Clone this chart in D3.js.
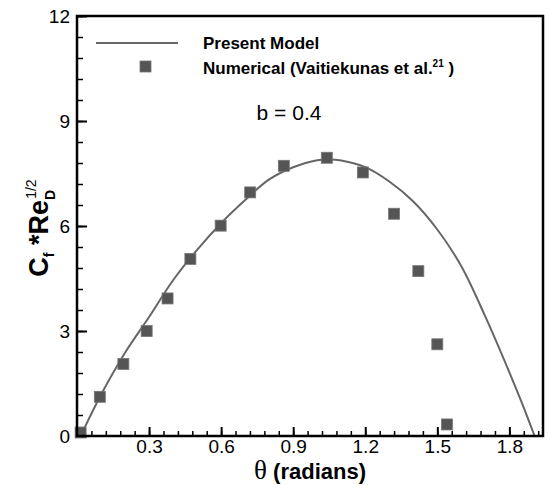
<!DOCTYPE html>
<html>
<head>
<meta charset="utf-8">
<script src="https://cdn.jsdelivr.net/npm/d3@7"></script>
<style>
  body { margin: 0; background: #fff; }
  svg { font-family: "Liberation Sans", Arial, sans-serif; }
</style>
</head>
<body>
<svg width="550" height="485"></svg>
<script>
// Present Model curve
const modelTheta = [0.015, 0.1, 0.2, 0.3, 0.4, 0.5, 0.6, 0.7, 0.8, 0.9, 1.0, 1.05, 1.1, 1.2, 1.3, 1.4, 1.5, 1.6, 1.7, 1.8, 1.85, 1.905];
const modelCf    = [0.0,  1.18, 2.38, 3.4, 4.45, 5.32, 6.08, 6.74, 7.33, 7.68, 7.88, 7.9, 7.87, 7.68, 7.27, 6.7, 5.9, 4.85, 3.41, 1.82, 0.98, 0.0];

// Numerical (Vaitiekunas et al.)
const numTheta = [0.015, 0.095, 0.193, 0.29, 0.377, 0.472, 0.598, 0.721, 0.861, 1.04, 1.19, 1.32, 1.421, 1.50, 1.54];
const numCf    = [0.1,   1.12,  2.06,  3.0,  3.93,  5.06,  6.01,  6.96,  7.72,  7.95, 7.53, 6.35, 4.71,  2.62, 0.33];

const xTicks = [0.3, 0.6, 0.9, 1.2, 1.5, 1.8];
const yTicks = [0, 3, 6, 9, 12];

const margin = { left: 77, top: 16, right: 7, bottom: 49 };
const width = 550, height = 485;

const svg = d3.select('svg');

const x = d3.scaleLinear().domain([0, 1.94]).range([margin.left, width - margin.right]);
const y = d3.scaleLinear().domain([0, 12]).range([height - margin.bottom, margin.top]);

const model = modelTheta.map(function (t, i) { return { x: t, y: modelCf[i] }; });
const numerical = numTheta.map(function (t, i) { return { x: t, y: numCf[i] }; });

// minor ticks
const xMinor = d3.range(0, 1.94, 0.06);
const yMinor = d3.range(0, 12.01, 0.6);

const xAxis = d3.axisBottom(x).tickValues(xTicks).tickFormat(d3.format('.1f'))
    .tickSizeInner(-9).tickSizeOuter(0).tickPadding(3);
const xAxisMinor = d3.axisBottom(x).tickValues(xMinor).tickFormat('')
    .tickSizeInner(-5).tickSizeOuter(0);
const yAxis = d3.axisLeft(y).tickValues(yTicks).tickFormat(d3.format('d'))
    .tickSizeInner(-10).tickSizeOuter(0).tickPadding(7);
const yAxisMinor = d3.axisLeft(y).tickValues(yMinor).tickFormat('')
    .tickSizeInner(-6).tickSizeOuter(0);

function styleAxis(g) {
    g.select('.domain').remove();
    g.selectAll('line').attr('stroke', '#000').attr('stroke-width', 1.5);
    g.selectAll('text').attr('fill', '#000').attr('font-size', 19);
}

svg.append('g').attr('transform', 'translate(0,' + y(0) + ')').call(xAxisMinor).call(styleAxis);
svg.append('g').attr('transform', 'translate(0,' + y(0) + ')').call(xAxis).call(styleAxis)
    .selectAll('line').attr('stroke-width', 2);
svg.append('g').attr('transform', 'translate(' + x(0) + ',0)').call(yAxisMinor).call(styleAxis);
svg.append('g').attr('transform', 'translate(' + x(0) + ',0)').call(yAxis).call(styleAxis)
    .selectAll('line').attr('stroke-width', 2);

// model curve
const line = d3.line()
    .x(function (d) { return x(d.x); })
    .y(function (d) { return y(d.y); })
    .curve(d3.curveCatmullRom);

svg.append('path')
    .datum(model)
    .attr('d', line)
    .attr('fill', 'none')
    .attr('stroke', '#666')
    .attr('stroke-width', 2);

// numerical squares
const sq = 11;
svg.append('g').selectAll('rect')
    .data(numerical)
    .enter().append('rect')
    .attr('x', function (d) { return x(d.x) - sq / 2; })
    .attr('y', function (d) { return y(d.y) - sq / 2; })
    .attr('width', sq)
    .attr('height', sq)
    .attr('fill', '#555')
    .attr('stroke', '#777')
    .attr('stroke-width', 0.8);

// frame
svg.append('rect')
    .attr('x', x(0))
    .attr('y', y(12))
    .attr('width', x(1.94) - x(0))
    .attr('height', y(0) - y(12))
    .attr('fill', 'none')
    .attr('stroke', '#000')
    .attr('stroke-width', 2.5);

// legend
svg.append('line')
    .attr('x1', 96).attr('x2', 178).attr('y1', 43).attr('y2', 43)
    .attr('stroke', '#666').attr('stroke-width', 2);
svg.append('text').attr('x', 203).attr('y', 49)
    .attr('font-size', 17).attr('font-weight', 'bold').text('Present Model');
svg.append('rect')
    .attr('x', 140).attr('y', 61).attr('width', sq).attr('height', sq)
    .attr('fill', '#555').attr('stroke', '#777').attr('stroke-width', 0.8);
const numText = svg.append('text').attr('x', 203).attr('y', 74)
    .attr('font-size', 17).attr('font-weight', 'bold');
numText.append('tspan').text('Numerical (Vaitiekunas et al.');
numText.append('tspan').attr('font-size', 10).attr('dy', -7).text('21');
numText.append('tspan').attr('dy', 7).text(' )');

svg.append('text').attr('x', 289).attr('y', 120).attr('text-anchor', 'middle')
    .attr('font-size', 21).text('b = 0.4');

// x title
const xt = svg.append('text').attr('x', 310).attr('y', 479).attr('text-anchor', 'middle')
    .attr('font-size', 22).attr('font-weight', 'bold');
xt.append('tspan').attr('font-family', '"Liberation Serif", serif').attr('font-size', 27)
    .attr('font-weight', 'normal').text('θ');
xt.append('tspan').text(' (radians)');

// y title
const yt = svg.append('text')
    .attr('transform', 'translate(48,' + 228 + ') rotate(-90)')
    .attr('text-anchor', 'middle')
    .attr('font-size', 27).attr('font-weight', 'bold');
yt.append('tspan').text('C');
yt.append('tspan').attr('font-size', 14).attr('dy', 6).text('f');
yt.append('tspan').attr('dy', -6).text(' *Re');
yt.append('tspan').attr('font-size', 14).attr('dy', 7).text('D');
yt.append('tspan').attr('font-size', 14).attr('font-weight', 'normal').attr('dx', -9).attr('dy', -19).text('1/2');
</script>
</body>
</html>
